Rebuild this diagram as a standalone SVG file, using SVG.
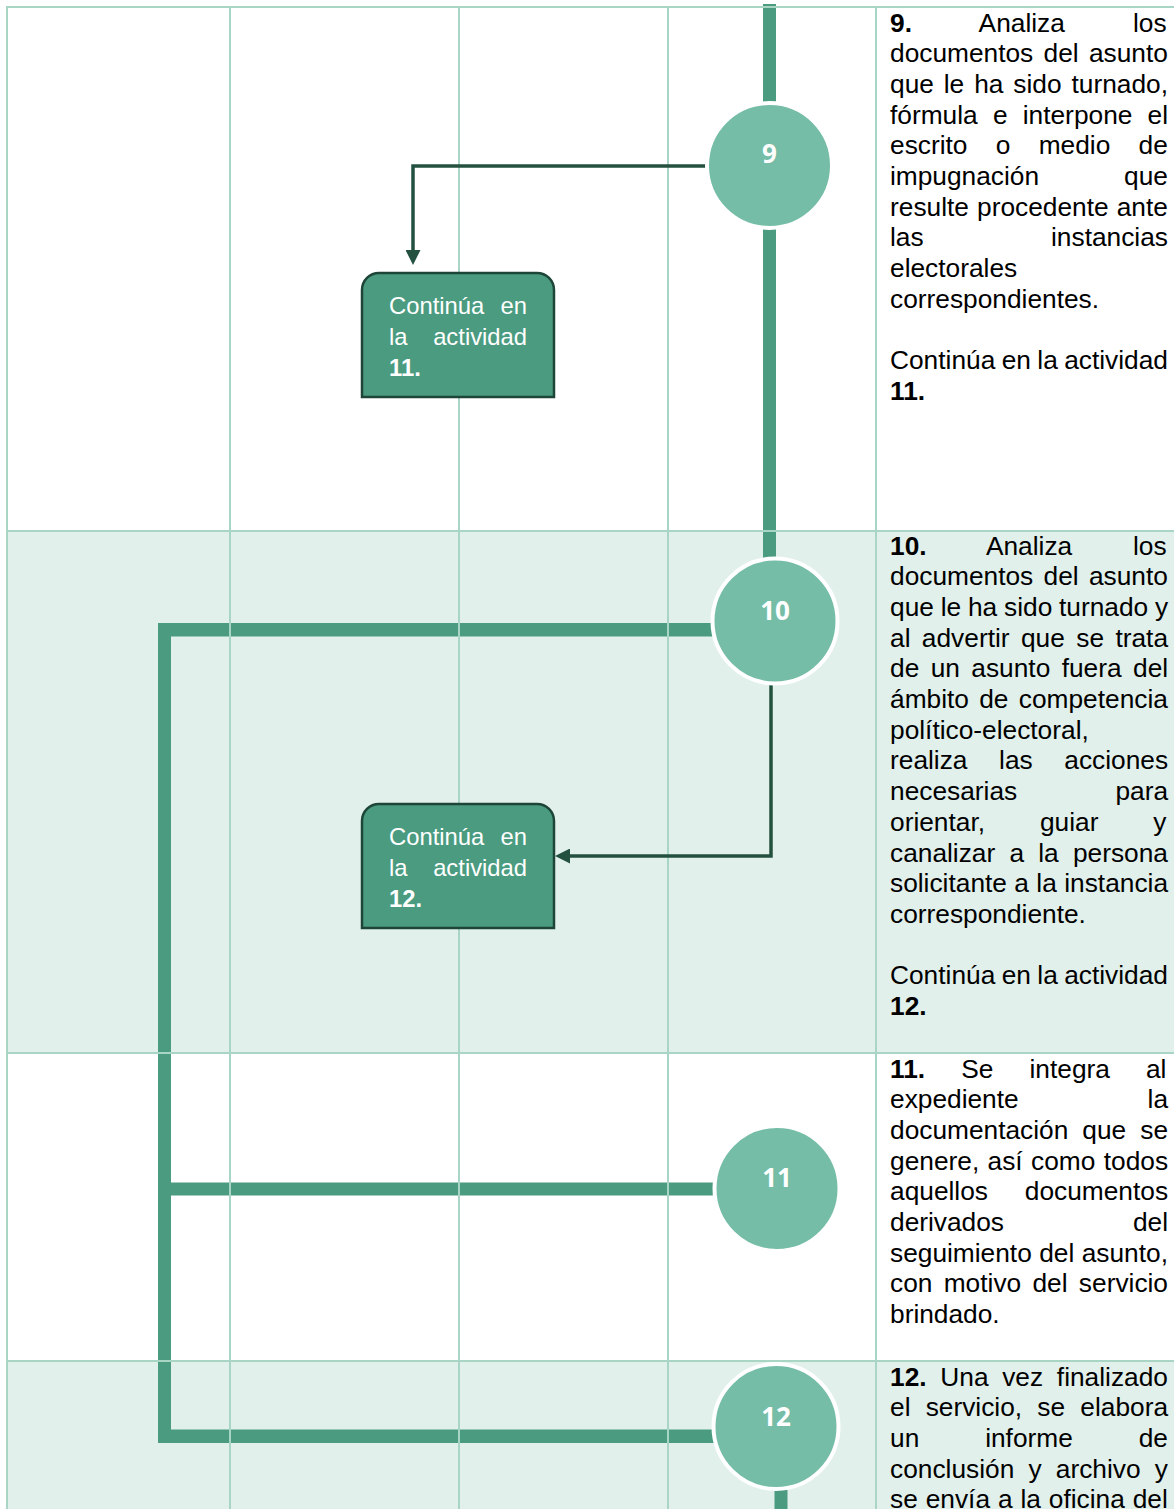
<svg xmlns="http://www.w3.org/2000/svg" width="1174" height="1509" viewBox="0 0 1174 1509">
  <style>
    .band { fill: #E2F0EB; }
    .grid { stroke: #A9D5C4; stroke-width: 2; fill: none; }
    .bar { fill: #4A9B80; }
    .node { fill: #75BDA7; stroke: #FFFFFF; stroke-width: 4; }
    .num { font-family: "Open Sans", "Noto Sans", sans-serif; font-weight: 700; font-size: 26px; fill: #FFFFFF; text-anchor: middle; }
    .box { fill: #4A9B80; stroke: #1E4638; stroke-width: 2.5; }
    .boxtxt { font-family: "Liberation Sans", Arial, sans-serif; font-size: 23.8px; fill: #FFFFFF; }
    .link { fill: none; stroke: #24513F; stroke-width: 3.5; }
    .desc { font-family: "Liberation Sans", Arial, sans-serif; font-size: 26.3px; fill: #000000; }
    .b { font-weight: 700; }
  </style>
  <defs>
    <marker id="arrow" viewBox="0 0 15 15" refX="0" refY="7.5" markerWidth="15" markerHeight="15" markerUnits="userSpaceOnUse" orient="auto">
      <path d="M0,0 L15,7.5 L0,15 Z" fill="#24513F"/>
    </marker>
  </defs>

  <!-- shaded rows -->
  <g id="rows">
    <rect class="band" x="7" y="531" width="1167" height="522"/>
    <rect class="band" x="7" y="1361" width="1167" height="148"/>
  </g>

  <!-- thick flow lines -->
  <g id="flow-bars">
    <rect class="bar" x="763" y="4" width="13" height="600"/>
    <rect class="bar" x="158" y="623" width="13" height="820"/>
    <rect class="bar" x="158" y="623" width="556" height="13.5"/>
    <rect class="bar" x="171" y="1182.5" width="545" height="13"/>
    <rect class="bar" x="158" y="1429.5" width="556" height="13.5"/>
    <rect class="bar" x="774.5" y="1470" width="13" height="40"/>
  </g>

  <!-- table grid -->
  <g id="grid">
    <line class="grid" x1="7" y1="7" x2="1174" y2="7"/>
    <line class="grid" x1="7" y1="531" x2="1174" y2="531"/>
    <line class="grid" x1="7" y1="1053" x2="1174" y2="1053"/>
    <line class="grid" x1="7" y1="1361" x2="1174" y2="1361"/>
    <line class="grid" x1="7" y1="6" x2="7" y2="1509"/>
    <line class="grid" x1="230" y1="6" x2="230" y2="1509"/>
    <line class="grid" x1="459" y1="6" x2="459" y2="1509"/>
    <line class="grid" x1="668" y1="6" x2="668" y2="1509"/>
    <line class="grid" x1="876" y1="6" x2="876" y2="1509"/>
  </g>

  <!-- thin connectors with arrowheads -->
  <g id="connectors">
    <path class="link" d="M706,166 H413 V250" marker-end="url(#arrow)"/>
    <path class="link" d="M771,684 V856 H570" marker-end="url(#arrow)"/>
  </g>

  <!-- activity nodes -->
  <g id="node-9">
    <circle class="node" cx="769.5" cy="165.5" r="62.5"/>
    <text class="num" x="769.5" y="163">9</text>
  </g>
  <g id="node-10">
    <circle class="node" cx="775" cy="621" r="62.5"/>
    <text class="num" x="775" y="619.5">10</text>
  </g>
  <g id="node-11">
    <circle class="node" cx="777" cy="1188.5" r="62.5"/>
    <text class="num" x="777" y="1187">11</text>
  </g>
  <g id="node-12">
    <circle class="node" cx="776" cy="1426.5" r="62.5"/>
    <text class="num" x="776" y="1426">12</text>
  </g>

  <!-- continuation boxes -->
  <g id="box-11">
    <path class="box" d="M362,397 V290 A17,17 0 0 1 379,273 H537 A17,17 0 0 1 554,290 V397 Z"/>
    <text class="boxtxt" x="389" y="313.5" style="word-spacing:9.7px">Continúa en</text>
    <text class="boxtxt" x="389" y="344.5" style="word-spacing:19px">la actividad</text>
    <text class="boxtxt b" x="389" y="375.5">11.</text>
  </g>
  <g id="box-12">
    <path class="box" d="M362,928 V821 A17,17 0 0 1 379,804 H537 A17,17 0 0 1 554,821 V928 Z"/>
    <text class="boxtxt" x="389" y="844.5" style="word-spacing:9.7px">Continúa en</text>
    <text class="boxtxt" x="389" y="875.5" style="word-spacing:19px">la actividad</text>
    <text class="boxtxt b" x="389" y="906.5">12.</text>
  </g>

  <!-- activity descriptions -->
  <g id="desc-9">
    <text class="desc" x="890" y="31.5" style="word-spacing:60.8px"><tspan class="b">9.</tspan> Analiza los</text>
    <text class="desc" x="890" y="62.2" style="word-spacing:3px">documentos del asunto</text>
    <text class="desc" x="890" y="92.9" style="word-spacing:2.6px">que le ha sido turnado,</text>
    <text class="desc" x="890" y="123.6" style="word-spacing:7.9px">fórmula e interpone el</text>
    <text class="desc" x="890" y="154.3" style="word-spacing:21px">escrito o medio de</text>
    <text class="desc" x="890" y="185" style="word-spacing:77.7px">impugnación que</text>
    <text class="desc" x="890" y="215.7" style="word-spacing:0.8px">resulte procedente ante</text>
    <text class="desc" x="890" y="246.4" style="word-spacing:120.1px">las instancias</text>
    <text class="desc" x="890" y="277.1">electorales</text>
    <text class="desc" x="890" y="307.8">correspondientes.</text>
    <text class="desc" x="890" y="369.2" style="word-spacing:-0.9px">Continúa en la actividad</text>
    <text class="desc b" x="890" y="399.9">11.</text>
  </g>
  <g id="desc-10">
    <text class="desc" x="890" y="554.5" style="word-spacing:53.5px"><tspan class="b">10.</tspan> Analiza los</text>
    <text class="desc" x="890" y="585.2" style="word-spacing:3px">documentos del asunto</text>
    <text class="desc" x="890" y="615.9" style="word-spacing:-0.5px">que le ha sido turnado y</text>
    <text class="desc" x="890" y="646.6" style="word-spacing:4.1px">al advertir que se trata</text>
    <text class="desc" x="890" y="677.3" style="word-spacing:4.1px">de un asunto fuera del</text>
    <text class="desc" x="890" y="708" style="word-spacing:3px">ámbito de competencia</text>
    <text class="desc" x="890" y="738.7">político-electoral,</text>
    <text class="desc" x="890" y="769.4" style="word-spacing:24.3px">realiza las acciones</text>
    <text class="desc" x="890" y="800.1" style="word-spacing:90.9px">necesarias para</text>
    <text class="desc" x="890" y="830.8" style="word-spacing:47.6px">orientar, guiar y</text>
    <text class="desc" x="890" y="861.5" style="word-spacing:6.9px">canalizar a la persona</text>
    <text class="desc" x="890" y="892.2" style="word-spacing:0.1px">solicitante a la instancia</text>
    <text class="desc" x="890" y="922.9">correspondiente.</text>
    <text class="desc" x="890" y="984.3" style="word-spacing:-0.9px">Continúa en la actividad</text>
    <text class="desc b" x="890" y="1015">12.</text>
  </g>
  <g id="desc-11">
    <text class="desc" x="890" y="1077.5" style="word-spacing:28.8px"><tspan class="b">11.</tspan> Se integra al</text>
    <text class="desc" x="890" y="1108.2" style="word-spacing:121.6px">expediente la</text>
    <text class="desc" x="890" y="1138.9" style="word-spacing:6.7px">documentación que se</text>
    <text class="desc" x="890" y="1169.6" style="word-spacing:1.1px">genere, así como todos</text>
    <text class="desc" x="890" y="1200.3" style="word-spacing:29.5px">aquellos documentos</text>
    <text class="desc" x="890" y="1231" style="word-spacing:121.6px">derivados del</text>
    <text class="desc" x="890" y="1261.7" style="word-spacing:0.1px">seguimiento del asunto,</text>
    <text class="desc" x="890" y="1292.4" style="word-spacing:4px">con motivo del servicio</text>
    <text class="desc" x="890" y="1323.1">brindado.</text>
  </g>
  <g id="desc-12">
    <text class="desc" x="890" y="1385.5" style="word-spacing:6.4px"><tspan class="b">12.</tspan> Una vez finalizado</text>
    <text class="desc" x="890" y="1416.2" style="word-spacing:7.9px">el servicio, se elabora</text>
    <text class="desc" x="890" y="1446.9" style="word-spacing:58.6px">un informe de</text>
    <text class="desc" x="890" y="1477.6" style="word-spacing:6.9px">conclusión y archivo y</text>
    <text class="desc" x="890" y="1508.3" style="word-spacing:0.6px">se envía a la oficina del</text>
  </g>
</svg>
